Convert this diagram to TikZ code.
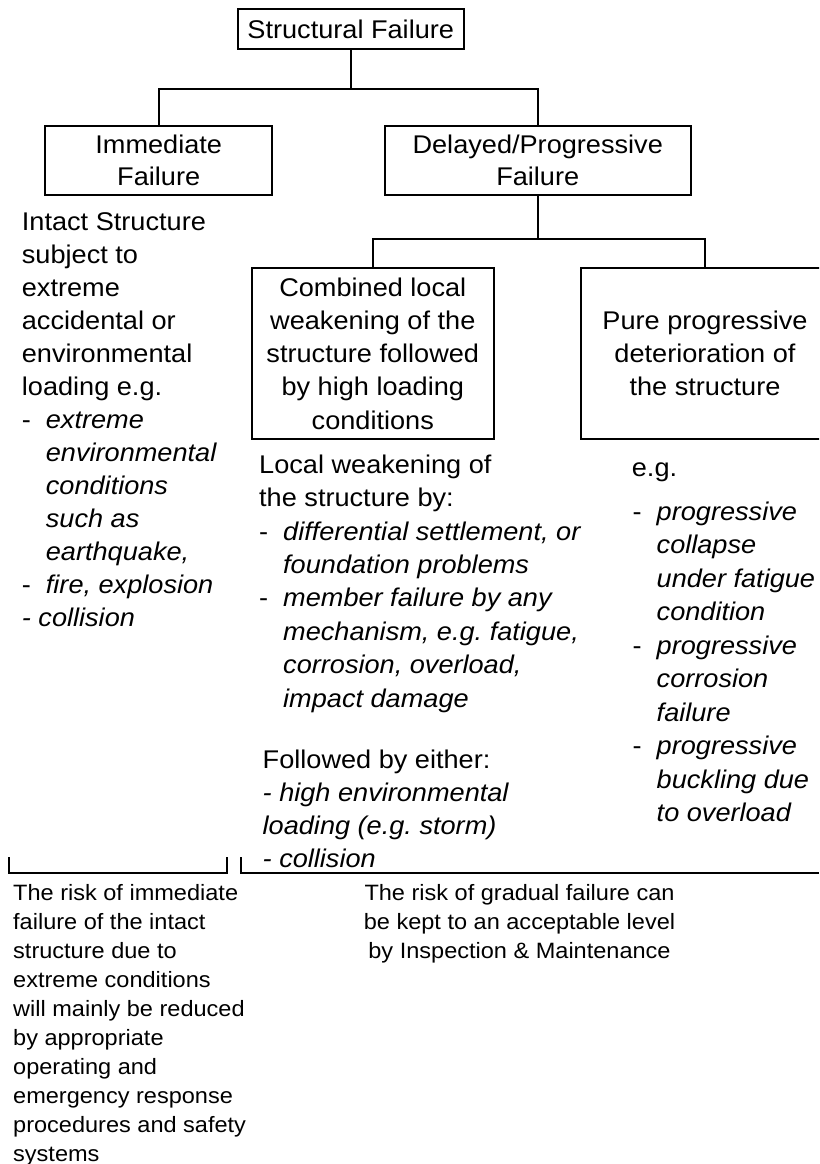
\documentclass[tikz,border=0pt]{standalone}
\usepackage{fontspec}
\setmainfont{Liberation Sans}[FakeStretch=1.06]
\newcommand\dsh[1]{\makebox[24pt][l]{-}\textit{#1}}
\newcommand\ind[1]{\hspace*{24pt}\textit{#1}}
\newcommand\txtlines[6][txt]{%
  \foreach \ltext [count=\i from 0] in {#6}{%
    \node[#1] (#2\i) at (#3,{#4+\i*#5}) {\ltext};}}
\begin{document}
\frenchspacing
\begin{tikzpicture}[x=1pt,y=-1pt,
  bigfont/.style={font=\fontsize{25.6}{33.3}\selectfont},
  box/.style={draw,line width=2pt,inner sep=0pt,align=center,bigfont},
  conn/.style={line width=2pt},
  txt/.style={anchor=base west,inner sep=0pt,bigfont},
  smalltxt/.style={anchor=base west,inner sep=0pt,font=\fontsize{22.2}{29}\selectfont},
  smallc/.style={anchor=base,inner sep=0pt,font=\fontsize{22.2}{29}\selectfont}]
\useasboundingbox (0,0) rectangle (819,1164);
\fill[white] (0,0) rectangle (819,1164);

% boxes
\node[box,minimum width=226.1pt,minimum height=40pt] (top) at (350.75,29.3) {Structural Failure};
\node[box,minimum width=226.6pt,minimum height=69pt,font=\fontsize{25.6}{31.7}\selectfont] (imm) at (158.7,160.5) {Immediate\\Failure};
\node[box,minimum width=305.5pt,minimum height=69pt,font=\fontsize{25.6}{31.7}\selectfont] (del) at (537.75,160.5) {Delayed/Progressive\\Failure};
\node[box,minimum width=241.6pt,minimum height=171pt] (comb) at (372.8,353.5)
  {Combined local\\weakening of the\\structure followed\\by high loading\\conditions};
\begin{scope}
\clip (0,0) rectangle (819,1164);
\node[box,minimum width=248pt,minimum height=171pt] (pure) at (705,353.5)
  {Pure progressive\\deterioration of\\the structure};
\end{scope}

% connectors
\path (top.south) ++(0,38.4) coordinate (j1);
\draw[conn] (top.south) -- (j1);
\draw[conn] (imm.north) |- (j1) -| (del.north);
\path (del.south) ++(0,43) coordinate (j2);
\draw[conn] (del.south) -- (j2);
\draw[conn] (comb.north) |- (j2) -| (pure.north);

% left column
\txtlines{L}{21.7}{230}{33}{Intact Structure,subject to,extreme,accidental or,environmental,loading e.g.,
  \dsh{extreme},\ind{environmental},\ind{conditions},\ind{such as},\ind{earthquake,},
  \dsh{fire, explosion},\textit{- collision}}

% middle column
\txtlines{M}{259}{473.3}{33.4}{Local weakening of,the structure by:,\dsh{differential settlement, or},
  \ind{foundation problems},\dsh{member failure by any},\ind{mechanism, e.g. fatigue,},
  \ind{corrosion, overload,},\ind{impact damage}}
\txtlines{F}{262.5}{768.3}{33}{Followed by either:,\textit{- high environmental},
  \textit{loading (e.g. storm)},\textit{- collision}}

% right column
\node[txt] (eg) at (631.7,476.7) {e.g.};
\txtlines{R}{632.5}{520}{33.5}{\dsh{progressive},\ind{collapse},\ind{under fatigue},\ind{condition},
  \dsh{progressive},\ind{corrosion},\ind{failure},\dsh{progressive},\ind{buckling due},\ind{to overload}}

% brackets
\coordinate (bl1) at (9.4,857.3);
\coordinate (bl2) at (9.4,873);
\coordinate (bl3) at (227.2,873);
\coordinate (bl4) at (227.2,857.3);
\coordinate (br1) at (241.3,857.3);
\coordinate (br2) at (241.3,873);
\coordinate (br3) at (819,873);
\draw[conn] (bl1) -- (bl2) -- (bl3) -- (bl4);
\draw[conn] (br1) -- (br2) -- (br3);

% bottom texts
\txtlines[smalltxt]{B}{13}{900}{29}{The risk of immediate,failure of the intact,structure due to,
  extreme conditions,will mainly be reduced,by appropriate,operating and,
  emergency response,procedures and safety,systems}
\txtlines[smallc]{C}{519.5}{900}{29}{The risk of gradual failure can,be kept to an acceptable level,
  by Inspection \& Maintenance}
\end{tikzpicture}
\end{document}
